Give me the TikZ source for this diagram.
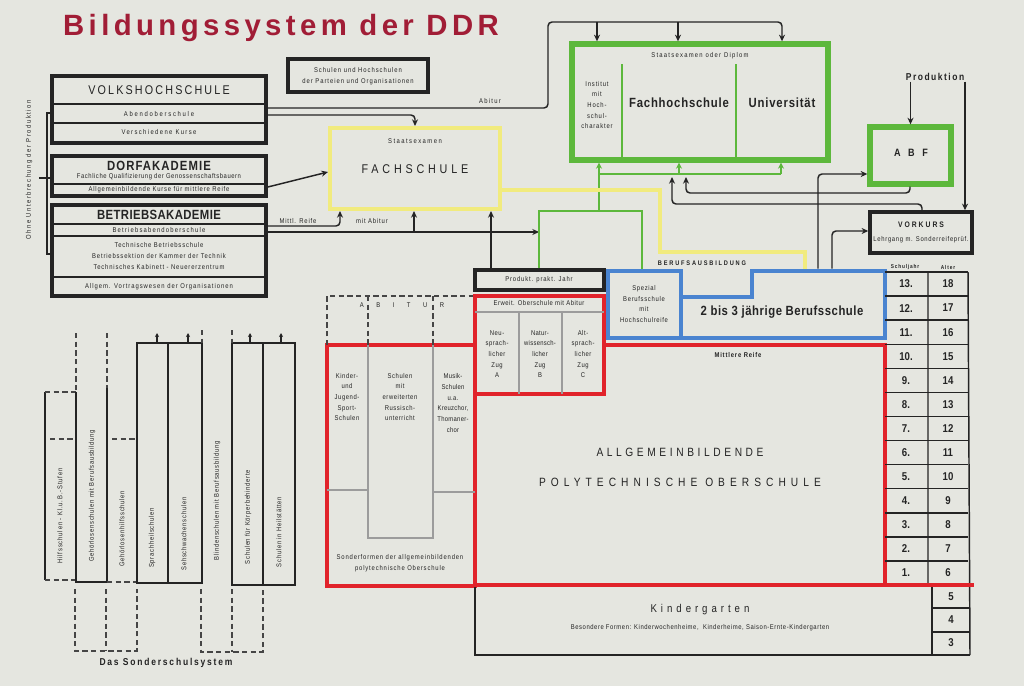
\documentclass[tikz,border=0pt]{standalone}
\usepackage{fontspec}
\setmainfont{Liberation Sans}[FakeStretch=0.85,LetterSpace=15]
\usetikzlibrary{fit,arrows.meta}
\definecolor{paper}{HTML}{E5E6E0}
\definecolor{ink}{HTML}{242424}
\definecolor{titlered}{HTML}{A11D36}
\definecolor{ddrred}{HTML}{E1232B}
\definecolor{ddrblue}{HTML}{4A84D0}
\definecolor{ddrgreen}{HTML}{5DB83C}
\definecolor{ddryellow}{HTML}{F1EB7E}
\definecolor{ddrgray}{HTML}{9C9C9C}
\tikzset{
  kbox/.style={draw=ink,line width=2.6pt,inner sep=0pt},
  gbox/.style={draw=ddrgreen,line width=4pt,inner sep=0pt},
  ybox/.style={draw=ddryellow,line width=3pt,inner sep=0pt},
  bbox/.style={draw=ddrblue,line width=3.4pt,inner sep=0pt},
  rbox/.style={draw=ddrred,line width=3.4pt,inner sep=0pt},
  rule/.style={draw=ink,line width=0.8pt},
  grule/.style={draw=ddrgray,line width=1.3pt},
  srule/.style={draw=ink,line width=1.1pt},
  dashline/.style={draw=ink!85,line width=1pt,dash pattern=on 4pt off 2.5pt},
  link/.style={draw=ink,line width=1.1pt,rounded corners=3pt},
  conn/.style={link,-{Stealth[length=5pt,width=4.5pt]}},
  glink/.style={draw=ddrgreen,line width=1.6pt},
  gconn/.style={glink,-{Stealth[length=4.5pt,width=4.5pt]}},
  ylink/.style={draw=ddryellow,line width=2.4pt},
  lbl/.style={font=\fontsize{5.2}{8}\selectfont\addfontfeature{LetterSpace=#1},text=ink,align=center,inner sep=0.5pt},
  lbl/.default=15,
  hd/.style={font=\fontsize{9.5}{11}\selectfont\addfontfeature{LetterSpace=#1},text=ink,inner sep=0.5pt},
  hd/.default=20,
  hdb/.style={font=\fontsize{10}{11}\selectfont\bfseries\addfontfeature{LetterSpace=#1},text=ink,inner sep=0.5pt},
  hdb/.default=5,
  num/.style={font=\fontsize{8.5}{9}\selectfont\bfseries\addfontfeature{LetterSpace=0},text=ink,inner sep=0pt},
}
\begin{document}
\begin{tikzpicture}[x=0.75pt,y=-0.75pt]
\useasboundingbox[fill=paper] (0,0) rectangle (1024,686);

% title
\node[font=\fontsize{22}{24}\selectfont\bfseries\addfontfeatures{FakeStretch=1.0,LetterSpace=15},text=titlered] (title) at (281,28) {Bildungssystem der DDR};

% adult education
\node[kbox,fit={(52,76)(266,143)}] (vhs) {};
\draw[rule] (52,104) -- (266,104) (52,123) -- (266,123);
\node[hd=17] (vhst) at (159,90) {VOLKSHOCHSCHULE};
\node[lbl=25] (vhs1) at (159,114) {Abendoberschule};
\node[lbl=20] (vhs2) at (159,132) {Verschiedene Kurse};

\node[kbox,fit={(52,156)(266,196)}] (dorf) {};
\draw[rule] (52,184) -- (266,184);
\node[hdb=8] (dorft) at (159,166) {DORFAKADEMIE};
\node[lbl=8] (dorf1) at (159,177) {Fachliche Qualifizierung der Genossenschaftsbauern};
\node[lbl=12] (dorf2) at (159,190) {Allgemeinbildende Kurse für mittlere Reife};

\node[kbox,fit={(52,205)(266,296)}] (ba) {};
\draw[rule] (52,224) -- (266,224) (52,236) -- (266,236) (52,277) -- (266,277);
\node[hdb=3] (bat) at (159,215) {BETRIEBSAKADEMIE};
\node[lbl=17] (ba1) at (159,230) {Betriebsabendoberschule};
\node[lbl=12] (ba2) at (159,256) {Technische Betriebsschule\\Betriebssektion der Kammer der Technik\\Technisches Kabinett - Neuererzentrum};
\node[lbl=14] (ba3) at (159,287) {Allgem. Vortragswesen der Organisationen};

\draw[rule,line width=0.9pt] (vhs.west |- 0,113) -| (47,178) |- (ba.west |- 0,254);
\draw[rule,line width=0.9pt] (39,178) -- (dorf.west |- 0,178);
\node[lbl=22,rotate=90] (ohne) at (29,170) {Ohne Unterbrechung der Produktion};

\node[kbox,fit={(288,59)(428,92)}] (part) {};
\node[lbl=14] (partt) at (358,76) {Schulen und Hochschulen\\der Parteien und Organisationen};

% Fachschule and Hochschulen
\node[ybox,fit={(330,128)(500,209)}] (fs) {};
\node[lbl=21] (fs1) at (415,141) {Staatsexamen};
\node[hd=30] (fst) at (415,169) {FACHSCHULE};

\node[gbox,fit={(572,44)(828,160)}] (hs) {};
\draw[ddrgreen,line width=2pt] (622,64) -- (622,160) (736,64) -- (736,160);
\node[lbl=18] (hs1) at (700,56) {Staatsexamen oder Diplom};
\node[lbl=12] (inst) at (597,105) {Institut\\mit\\Hoch-\\schul-\\charakter};
\node[hdb=6] (fhs) at (679,103) {Fachhochschule};
\node[hdb=6] (uni) at (782,103) {Universität};

\node[gbox,fit={(870,127)(951,184)}] (abf) {};
\node[hdb=70,font=\fontsize{8}{9}\selectfont\bfseries\addfontfeature{LetterSpace=70}] (abft) at (911,153) {ABF};
\node[kbox,fit={(870,212)(972,253)}] (vk) {};
\node[hdb=25,font=\fontsize{6}{7}\selectfont\bfseries\addfontfeature{LetterSpace=25}] (vkt) at (921,225) {VORKURS};
\node[lbl=10] (vk1) at (921,240) {Lehrgang m. Sonderreifeprüf.};
\node[hdb,font=\fontsize{7.5}{8}\selectfont\bfseries\addfontfeature{LetterSpace=15}] (prod) at (935,77) {Produktion};

% Berufsausbildung
\node[kbox,fit={(475,270)(604,290)}] (pj) {};
\node[lbl=12] (pjt) at (539,280) {Produkt. prakt. Jahr};
\node[lbl=27,font=\fontsize{5}{6}\selectfont\bfseries\addfontfeature{LetterSpace=27}] (beruf) at (702,263) {BERUFSAUSBILDUNG};
\node[bbox,fit={(608,271)(681,338)}] (sp) {};
\node[lbl=10] (spt) at (644,304) {Spezial\\Berufsschule\\mit\\Hochschulreife};
\node[fit={(752,271)(885,338)},inner sep=0pt,outer sep=1.7pt] (bs) {};
\draw[ddrblue,line width=3.4pt] (681,297) -- (752,297) -- (752,271) -- (885,271) -- (885,338) -- (681,338);
\node[hdb=4] (bst) at (782,312) {2 bis 3 jährige Berufsschule};

% Oberschule
\node[rbox,fit={(475,345)(885,585)}] (pos) {};
\node[rbox,fill=paper,fit={(475,296)(604,394)}] (eos) {};
\draw[grule] (475,312) -- (604,312) (519,312) -- (519,394) (562,312) -- (562,394);
\node[lbl=8] (eost) at (539,303) {Erweit. Oberschule mit Abitur};
\node[lbl=8] (zuga) at (497,354) {Neu-\\sprach-\\licher\\Zug\\A};
\node[lbl=4] (zugb) at (540,354) {Natur-\\wissensch-\\licher\\Zug\\B};
\node[lbl=8] (zugc) at (583,354) {Alt-\\sprach-\\licher\\Zug\\C};
\node[lbl=12,font=\fontsize{5.2}{6}\selectfont\bfseries\addfontfeature{LetterSpace=12}] (mr) at (738,355) {Mittlere Reife};
\node[hd=30,font=\fontsize{9}{10}\selectfont\addfontfeature{LetterSpace=30}] (pos1) at (680,452) {ALLGEMEINBILDENDE};
\node[hd=42,font=\fontsize{9}{10}\selectfont\addfontfeature{LetterSpace=42}] (pos2) at (680,482) {POLYTECHNISCHE OBERSCHULE};

\node[rbox,fit={(327,345)(475,586)}] (sf) {};
\draw[grule] (327,490) -- (368,490) (368,345) -- (368,538) -- (433,538) -- (433,345) (433,492) -- (475,492);
\draw[dashline] (327,345) -- (327,296) -- (473,296) (368,296) -- (368,345) (433,296) -- (433,345);
\node[lbl=180] (abi) at (402,305) {ABITUR};
\node[lbl=8] (kjs) at (347,397) {Kinder-\\und\\Jugend-\\Sport-\\Schulen};
\node[lbl=8] (rus) at (400,397) {Schulen\\mit\\erweiterten\\Russisch-\\unterricht};
\node[lbl=4] (mus) at (453,403) {Musik-\\Schulen\\u.a.\\Kreuzchor,\\Thomaner-\\chor};
\node[lbl=12] (sft) at (400,563) {Sonderformen der allgemeinbildenden\\polytechnische Oberschule};

% Kindergarten and scale
\draw[srule,line width=1.5pt] (475,587) -- (475,655) -- (970,655) (932,585) -- (932,655);
\node[hd=35,font=\fontsize{8.5}{9}\selectfont\addfontfeature{LetterSpace=35}] (kg) at (700,610) {Kindergarten};
\node[lbl=8] (kg1) at (700,628) {Besondere Formen: Kinderwochenheime, \ Kinderheime, Saison-Ernte-Kindergarten};
\node[lbl=5,font=\fontsize{4.2}{5}\selectfont\bfseries] (sjh) at (905,267) {Schuljahr};
\node[lbl=5,font=\fontsize{4.2}{5}\selectfont\bfseries] (alh) at (948,267) {Alter};
\draw[srule] (928,272) -- (928,585) (968,272) -- (970,655);
\foreach \k in {0,...,12}{
  \pgfmathtruncatemacro\sj{13-\k}
  \pgfmathtruncatemacro\al{18-\k}
  \draw[srule] (885,{272+\k*24.08}) -- (968,{272+\k*24.08});
  \node[num] (sj\k) at (906,{284+\k*24.08}) {\sj.};
  \node[num] (al\k) at (948,{284+\k*24.08}) {\al};
}
\draw[srule] (932,608) -- (970,608) (932,632) -- (970,632);
\node[num] (kg5) at (951,597) {5};
\node[num] (kg4) at (951,620) {4};
\node[num] (kg3) at (951,643) {3};
\draw[ddrred,line width=3.4pt] (885,585) -- (974,585);

% connectors
\coordinate (t1) at (597,22);
\coordinate (t2) at (678,22);
\draw[conn] (vhs.east |- 0,108) -- (548,108) -- (548,22) -- (782,22) -- (hs.north -| 782,0);
\draw[conn] (t1) -- (hs.north -| t1);
\draw[conn] (t2) -- (hs.north -| t2);
\node[lbl=18] (abit) at (490,101) {Abitur};
\draw[conn] (vhs.east |- 0,115) -| (fs.north);
\draw[conn] (dorf.east |- 0,187) -- (fs.west |- 0,172);
\draw[conn] (ba.east |- 0,226) -| (fs.south -| 340,0);
\node[lbl=12] (mreife) at (298,221) {Mittl. Reife};
\node[lbl=12] (mabi) at (372,221) {mit Abitur};
\coordinate (gnw) at (539,211);
\coordinate (gne) at (642,211);
\coordinate (gmid) at (599,211);
\coordinate (gbar) at (599,174);
\coordinate (gbarE) at (781,174);
\coordinate (abifork) at (414,232);
\draw[conn] (ba.east |- 0,232) -- (gnw |- 0,232);
\draw[conn] (abifork) -- (fs.south -| abifork);
\draw[conn] (pj.north -| 491,0) -- (fs.south -| 491,0);
\draw[glink] (pj.north -| gnw) -- (gnw) -- (gne) -- (sp.north -| gne);
\draw[gconn] (gmid) -- (hs.south -| gmid);
\draw[glink] (gbar) -- (gbarE);
\draw[gconn] (gbar -| 679,0) -- (hs.south -| 679,0);
\draw[gconn] (gbarE) -- (hs.south -| gbarE);
\draw[ylink] (fs.east |- 0,190) -| (660,252) -| (bs.north -| 805,0);
\coordinate (gin1) at (686,177);
\coordinate (gin2) at (672,177);
\draw[conn] (bs.north -| 818,0) |- (abf.west |- 0,174);
\draw[conn] (bs.north -| 832,0) |- (vk.west |- 0,231);
\draw[conn] (abf.south -| 910,0) |- (gin1 |- 0,193) -- (gin1);
\draw[conn] (vk.north -| 922,0) |- (gin2 |- 0,204) -- (gin2);
\draw[conn] (prod.south -| abf.north) -- (abf.north);
\draw[conn] (prod.south -| 965,0) -- (vk.north -| 965,0);

% Sonderschulsystem
\draw[srule] (45,392) -- (45,580);
\draw[dashline] (45,392) -- (76,392) (50,439) -- (76,439) (45,580) -- (76,580);
\draw[dashline] (76,333) -- (76,392) (107,333) -- (107,388);
\draw[srule] (76,392) -- (76,582) -- (107,582) (107,388) -- (107,582);
\draw[dashline] (112,439) -- (137,439) (107,582) -- (137,582);
\draw[srule] (137,343) rectangle (202,583) (168,343) -- (168,583);
\draw[srule] (232,343) rectangle (295,585) (263,343) -- (263,585);
\draw[dashline] (202,330) -- (202,343) (232,330) -- (232,343);
\foreach \x in {157,188,250,281}
  \draw[srule,-{Stealth[length=3pt,width=3pt]}] (\x,343) -- (\x,333);
\draw[dashline] (75,589) -- (75,651) -- (137,651) -- (137,589) (106,589) -- (106,651);
\draw[dashline] (201,589) -- (201,652) -- (263,652) -- (263,589) (232,589) -- (232,652);
\node[lbl=12,rotate=90] (ss1) at (60,516) {Hilfsschulen - Kl.u.B.-Stufen};
\node[lbl=10,rotate=90] (ss2) at (92,496) {Gehörlosenschulen mit Berufsausbildung};
\node[lbl=10,rotate=90] (ss3) at (122,529) {Gehörlosenhilfsschulen};
\node[lbl=10,rotate=90] (ss4) at (152,538) {Sprachheilschulen};
\node[lbl=10,rotate=90] (ss5) at (184,534) {Sehschwachenschulen};
\node[lbl=10,rotate=90] (ss6) at (217,501) {Blindenschulen mit Berufsausbildung};
\node[lbl=10,rotate=90] (ss7) at (248,517) {Schulen für Körperbehinderte};
\node[lbl=10,rotate=90] (ss8) at (279,532) {Schulen in Heilstätten};
\node[hdb,font=\fontsize{7.5}{8}\selectfont\bfseries\addfontfeature{LetterSpace=18}] (sss) at (166,663) {Das Sonderschulsystem};
\end{tikzpicture}
\end{document}
